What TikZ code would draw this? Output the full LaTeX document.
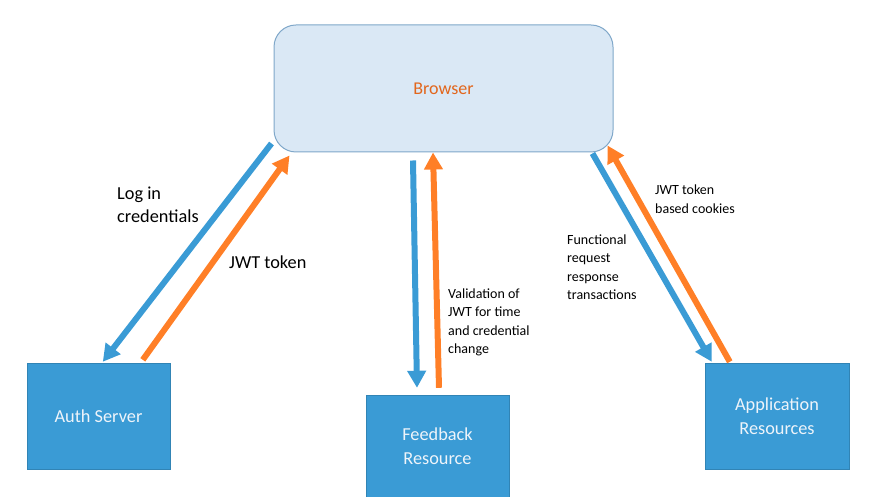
\documentclass[tikz,border=0pt]{standalone}
\usepackage{fontspec}
\setmainfont{Carlito}
\usetikzlibrary{arrows.meta,calc}
\definecolor{boxblue}{HTML}{3A9BD5}
\definecolor{arrblue}{HTML}{3A9BD5}
\definecolor{arrorange}{HTML}{FF7F27}
\definecolor{brfill}{HTML}{DAE8F5}
\definecolor{brline}{HTML}{7FA7C9}
\definecolor{brtext}{HTML}{E2661C}
\definecolor{boxtext}{HTML}{EEF4FA}
\tikzset{
  server/.style={rectangle, fill=boxblue, draw=boxblue!85!black, line width=0.4pt, text=boxtext, align=center, font=\fontsize{18.3}{24}\selectfont},
  browserbox/.style={rectangle, rounded corners=22pt, fill=brfill, draw=brline, line width=1pt, text=brtext, font=\fontsize{18}{20}\selectfont},
  barrow/.style={draw=arrblue, line width=6pt, -{Triangle[width=18pt,length=17pt]}, arrblue},
  oarrow/.style={draw=arrorange, line width=6pt, -{Triangle[width=18pt,length=17pt]}, arrorange},
  biglabel/.style={align=left, anchor=west, inner sep=0pt, font=\fontsize{18.3}{23}\selectfont},
  smalllabel/.style={align=left, anchor=west, inner sep=0pt, font=\fontsize{14}{18.5}\selectfont}
}
\begin{document}
\begin{tikzpicture}[x=1pt,y=1pt]
\useasboundingbox (0,0) rectangle (878,497);
\node[browserbox, minimum width=339pt, minimum height=127pt] (browser) at (443.5,408.5) {Browser};
\node[server, minimum width=143pt, minimum height=106pt] (auth) at (98.5,81) {Auth Server};
\node[server, minimum width=143pt, minimum height=102pt] (feed) at (437.5,51) {Feedback\\Resource};
\node[server, minimum width=144pt, minimum height=106pt] (app) at (777,81) {Application\\Resources};
% left pair
\draw[barrow] ($(browser.south west)+(-2,9)$) -- ($(auth.north west)+(76,1)$);
\draw[oarrow] ($(auth.north west)+(116,3)$) -- ($(browser.south west)+(16,-3)$);
% middle pair
\draw[barrow] ($(browser.south)+(-30.5,-8)$) -- ($(feed.north)+(-20.5,7)$);
\draw[oarrow] ($(feed.north)+(1.5,7)$) -- ($(browser.south)+(-10.5,0)$);
% right pair
\draw[barrow] ($(browser.south east)+(-21,-1)$) -- ($(app.north west)+(7,1)$);
\draw[oarrow] ($(app.north west)+(25,1)$) -- ($(browser.south east)+(-6,7)$);
% labels
\node[biglabel] (l1) at (117,292.5) {Log in\\credentials};
\node[biglabel] (l2) at (229,235) {JWT token};
\node[smalllabel] (l3) at (448,174.5) {Validation of\\JWT for time\\and credential\\change};
\node[smalllabel] (l4) at (655,298) {JWT token\\based cookies};
\node[smalllabel] (l5) at (567,230) {Functional\\request\\response\\transactions};
\end{tikzpicture}
\end{document}
